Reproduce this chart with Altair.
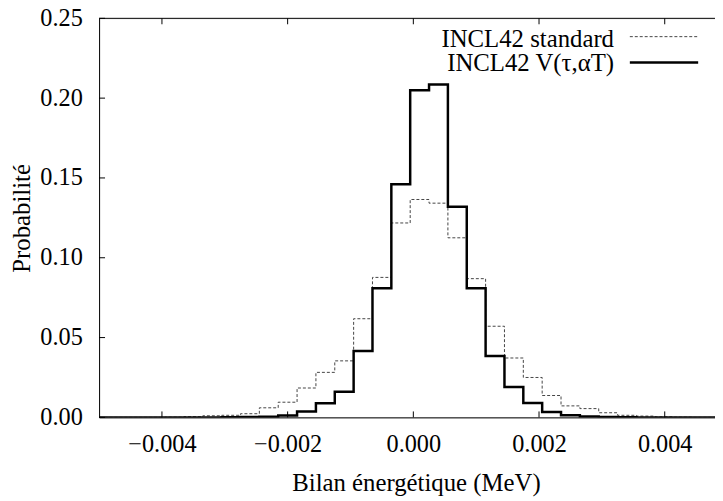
import altair as alt
import pandas as pd

# Bin centres (MeV), bin width 0.0003
bin_centers = [-0.0050, -0.0047, -0.0044, -0.0041, -0.0038, -0.0035, -0.0032, -0.0029,
               -0.0026, -0.0023, -0.0020, -0.0017, -0.0014, -0.0011, -0.0008, -0.0005,
               -0.0002, 0.0001, 0.0004, 0.0007, 0.0010, 0.0013, 0.0016, 0.0019,
               0.0022, 0.0025, 0.0028, 0.0031, 0.0034, 0.0037, 0.0040, 0.0043,
               0.0046, 0.0049]
bin_width = 0.0003

standard = [0, 0, 0, 0, 0.0001, 0.0004, 0.0010, 0.0013,
            0.0023, 0.0060, 0.0095, 0.0184, 0.0282, 0.0354, 0.0618, 0.0877,
            0.1218, 0.1365, 0.1342, 0.1125, 0.0869, 0.0571, 0.0372, 0.0250,
            0.0137, 0.0072, 0.0055, 0.0029, 0.0013, 0.0008, 0.0003, 0.0001,
            0, 0]
modified = [0, 0, 0, 0, 0, 0, 0, 0.0001,
            0.0002, 0.0004, 0.0012, 0.0037, 0.0089, 0.0161, 0.0416, 0.0809,
            0.1460, 0.2050, 0.2085, 0.1320, 0.0809, 0.0385, 0.0190, 0.0090,
            0.0033, 0.0013, 0.0005, 0.0002, 0.0001, 0, 0, 0,
            0, 0]

series_names = ["INCL42 standard", "INCL42 V(\u03c4,\u03b1T)"]
x_ticks = [-0.004, -0.002, 0.0, 0.002, 0.004]
y_ticks = [0.0, 0.05, 0.10, 0.15, 0.20, 0.25]

FONT = "'Liberation Serif', 'Times New Roman', Times, 'DejaVu Serif', serif"
W, H = 622, 403
xdom = [-0.005, 0.0048]
ydom = [0, 0.25]


def steps(values, name):
    rows = []
    for c, v in zip(bin_centers, values):
        rows.append({"x": c - bin_width / 2, "y": v, "s": name})
    rows.append({"x": bin_centers[-1] + bin_width / 2, "y": values[-1], "s": name})
    return pd.DataFrame(rows)


xs = alt.Scale(domain=xdom, nice=False, zero=False)
ys = alt.Scale(domain=ydom, nice=False)

df_std = steps(standard, series_names[0])
df_mod = steps(modified, series_names[1])

x_axis = alt.Axis(values=x_ticks, format=".3f", ticks=False, tickSize=0, grid=False,
                  labelPadding=34, labelBaseline="alphabetic", labelFontSize=24.5,
                  labelFont=FONT, labelColor="black", domainColor="black", domainWidth=1,
                  title="Bilan énergétique (MeV)", titleFont=FONT, titleFontSize=25,
                  titleFontWeight="normal", titleColor="black", titleX=320, titleY=74,
                  titleBaseline="alphabetic", titleAlign="center")
y_axis = alt.Axis(values=y_ticks, format=".2f", ticks=False, tickSize=0, grid=False,
                  labelPadding=17, labelBaseline="middle", labelFontSize=24.5,
                  labelFont=FONT, labelColor="black", domainColor="black", domainWidth=1,
                  title="Probabilité", titleFont=FONT, titleFontSize=25,
                  titleFontWeight="normal", titleColor="black", titleX=-70, titleY=201.5,
                  titleAngle=270, titleBaseline="alphabetic", titleAlign="center")

line_std = alt.Chart(df_std).mark_line(
    interpolate="step-after", color="#444444", strokeWidth=1, strokeDash=[3, 2], clip=True
).encode(x=alt.X("x:Q", scale=xs, axis=x_axis), y=alt.Y("y:Q", scale=ys, axis=y_axis))

line_mod = alt.Chart(df_mod).mark_line(
    interpolate="step-after", color="black", strokeWidth=2.5, clip=True
).encode(x=alt.X("x:Q", scale=xs), y=alt.Y("y:Q", scale=ys))

# inward ticks
df_xt = pd.DataFrame({"t": x_ticks})
df_yt = pd.DataFrame({"t": y_ticks})
xt_bottom = alt.Chart(df_xt).mark_rule(color="black", strokeWidth=1).encode(
    x=alt.X("t:Q", scale=xs), y=alt.value(H), y2=alt.value(H - 6))
xt_top = alt.Chart(df_xt).mark_rule(color="black", strokeWidth=1).encode(
    x=alt.X("t:Q", scale=xs), y=alt.value(0), y2=alt.value(6))
yt_left = alt.Chart(df_yt).mark_rule(color="black", strokeWidth=1).encode(
    y=alt.Y("t:Q", scale=ys), x=alt.value(0), x2=alt.value(6))
top_border = alt.Chart(pd.DataFrame({"a": [0]})).mark_rule(color="black", strokeWidth=1).encode(
    x=alt.value(0), x2=alt.value(W), y=alt.value(0))

# legend (drawn manually: label left, sample right)
one = pd.DataFrame({"a": [0]})
leg_label_std = alt.Chart(one).mark_text(
    align="right", baseline="alphabetic", font=FONT, fontSize=25, color="black",
    text=series_names[0]
).encode(x=alt.value(520), y=alt.value(28.5))
leg_label_mod = alt.Chart(one).mark_text(
    align="right", baseline="alphabetic", font=FONT, fontSize=25, color="black",
    text=series_names[1]
).encode(x=alt.value(520), y=alt.value(53.5))
leg_std = alt.Chart(one).mark_rule(
    color="#444444", strokeWidth=1, strokeDash=[3, 2]).encode(
    x=alt.value(536), x2=alt.value(605), y=alt.value(18.5))
leg_mod = alt.Chart(one).mark_rule(
    color="black", strokeWidth=2.5).encode(
    x=alt.value(536), x2=alt.value(605), y=alt.value(44.5))

chart = alt.layer(
    line_std, line_mod, xt_bottom, xt_top, yt_left, top_border,
    leg_label_std, leg_label_mod, leg_std, leg_mod
).properties(
    width=W, height=H,
    autosize=alt.AutoSizeParams(type="none"),
    padding={"left": 92, "top": 8, "right": 0, "bottom": 80},
).configure_view(stroke=None).configure(background="white", font=FONT)

chart.save("out.html", embed_options={"renderer": "svg", "actions": False})
